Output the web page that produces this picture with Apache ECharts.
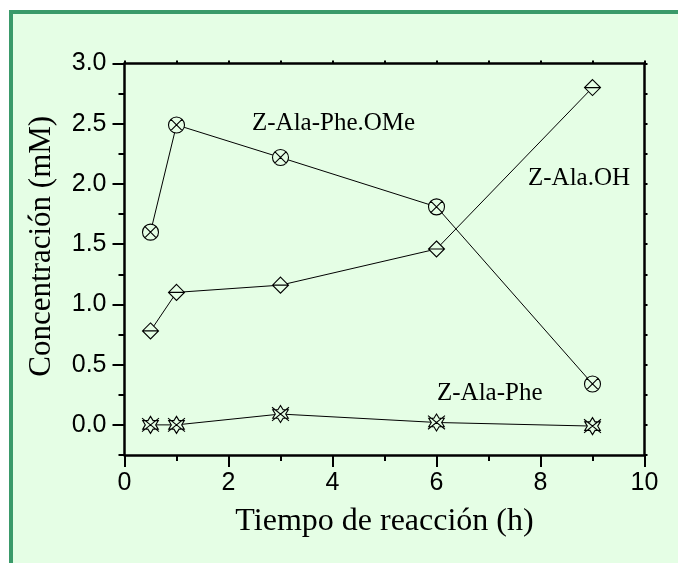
<!DOCTYPE html>
<html>
<head>
<meta charset="utf-8">
<script src="https://cdn.jsdelivr.net/npm/echarts@6/dist/echarts.min.js"></script>
<style>
html,body{margin:0;padding:0;background:#ffffff;}
#chart{width:678px;height:563px;}
</style>
</head>
<body>
<div id="chart"></div>
<script>
// ---- data ----
const times = [0.5, 1, 3, 6, 9];
const esterValues = [1.60, 2.49, 2.22, 1.81, 0.34];      // Z-Ala-Phe.OMe
const acidValues = [0.78, 1.10, 1.16, 1.46, 2.80];       // Z-Ala.OH
const dipeptideValues = [0.00, 0.00, 0.09, 0.02, -0.01]; // Z-Ala-Phe
const seriesNames = ['Z-Ala-Phe.OMe', 'Z-Ala.OH', 'Z-Ala-Phe'];
const xTickLabels = [0, 2, 4, 6, 8, 10];
const yTickLabels = [0.0, 0.5, 1.0, 1.5, 2.0, 2.5, 3.0];
const yMinorTicks = [-0.25, 0.25, 0.75, 1.25, 1.75, 2.25, 2.75];
const yRightTicks = [-0.25, 0, 0.25, 0.5, 0.75, 1, 1.25, 1.5, 1.75, 2, 2.25, 2.5, 2.75, 3];
const xTitle = 'Tiempo de reacción (h)';
const yTitle = 'Concentración (mM)';

const BG = '#e5fee5';
const SANS = 'Liberation Sans, Arial, sans-serif';
const SERIF = 'Liberation Serif, Times New Roman, serif';

const circleX = 'path://M0,-1 A1,1 0 1,1 0,1 A1,1 0 1,1 0,-1 Z M-0.72,-0.72 L0.72,0.72 M-0.72,0.72 L0.72,-0.72';
const diamondH = 'path://M0,-1 L1,0 L0,1 L-1,0 Z M-1,0 L1,0';
const starX = 'path://M0,-1 L0.29,-0.5 L0.87,-0.5 L0.58,0 L0.87,0.5 L0.29,0.5 L0,1 L-0.29,0.5 L-0.87,0.5 L-0.58,0 L-0.87,-0.5 L-0.29,-0.5 Z M-0.95,-0.8 L0.95,0.8 M-0.95,0.8 L0.95,-0.8';

function pairs(vals){ return times.map((t,i)=>[t, vals[i]]); }

function makeSeries(name, vals, symbol, size){
  return {
    name: name, type: 'line', data: pairs(vals),
    xAxisIndex: 0, yAxisIndex: 0,
    symbol: symbol, symbolSize: size, showAllSymbol: true,
    lineStyle: {color: '#000', width: 1},
    itemStyle: {color: BG, borderColor: '#000', borderWidth: 1.1},
    emphasis: {disabled: true}, silent: true
  };
}

const chart = echarts.init(document.getElementById('chart'), null, {renderer: 'canvas'});
const axisLine = {show: true, onZero: false, lineStyle: {color: '#000', width: 2.5}};

chart.setOption({
  animation: false,
  backgroundColor: '#ffffff',
  graphic: [
    {type: 'rect', z: -10, silent: true,
     shape: {x: 11, y: 12, width: 720, height: 620},
     style: {fill: BG, stroke: '#3a9a6a', lineWidth: 4}},
    {type: 'text', left: 252, top: 111, silent: true,
     style: {text: seriesNames[0], font: '25px ' + SERIF, fill: '#000'}},
    {type: 'text', left: 528, top: 166, silent: true,
     style: {text: seriesNames[1], font: '25px ' + SERIF, fill: '#000'}},
    {type: 'text', left: 437, top: 381, silent: true,
     style: {text: seriesNames[2], font: '25px ' + SERIF, fill: '#000'}}
  ],
  grid: {left: 124.5, right: 33.5, top: 63.5, bottom: 108, containLabel: false, outerBoundsMode: 'none'},
  xAxis: [
    {type: 'value', position: 'bottom', min: 0, max: 10, interval: 2,
     axisLine: axisLine,
     axisTick: {show: true, inside: false, length: 12, lineStyle: {color: '#000', width: 2}},
     minorTick: {show: true, splitNumber: 2, length: 6, lineStyle: {color: '#000', width: 2}},
     axisLabel: {show: true, margin: 16, color: '#000', fontSize: 25, fontFamily: SANS,
                 customValues: xTickLabels, formatter: v => String(v)},
     splitLine: {show: false}, minorSplitLine: {show: false},
     name: xTitle, nameLocation: 'middle', nameGap: 51,
     nameTextStyle: {color: '#000', fontSize: 32, fontFamily: SERIF}},
    {type: 'value', position: 'top', min: 0, max: 10, interval: 1,
     axisLine: axisLine,
     axisTick: {show: true, inside: false, length: 3, lineStyle: {color: '#000', width: 2}},
     axisLabel: {show: false}, splitLine: {show: false}}
  ],
  yAxis: [
    {type: 'value', position: 'left', min: -0.25, max: 3.0,
     axisLine: axisLine,
     axisTick: {show: true, inside: false, length: 12, customValues: yTickLabels, lineStyle: {color: '#000', width: 2}},
     axisLabel: {show: true, margin: 18, color: '#000', fontSize: 25, fontFamily: SANS,
                 customValues: yTickLabels, formatter: v => v.toFixed(1)},
     splitLine: {show: false},
     name: yTitle, nameLocation: 'middle', nameGap: 67,
     nameTextStyle: {color: '#000', fontSize: 31, fontFamily: SERIF, padding: [0, 0, 0, 26]}},
    {type: 'value', position: 'left', min: -0.25, max: 3.0,
     axisLine: {show: false, onZero: false},
     axisTick: {show: true, inside: false, length: 6, customValues: yMinorTicks, lineStyle: {color: '#000', width: 2}},
     axisLabel: {show: false}, splitLine: {show: false}},
    {type: 'value', position: 'right', min: -0.25, max: 3.0,
     axisLine: axisLine,
     axisTick: {show: true, inside: false, length: 3, customValues: yRightTicks, lineStyle: {color: '#000', width: 2}},
     axisLabel: {show: false}, splitLine: {show: false}}
  ],
  series: [
    makeSeries(seriesNames[0], esterValues, circleX, 16),
    makeSeries(seriesNames[1], acidValues, diamondH, 16),
    makeSeries(seriesNames[2], dipeptideValues, starX, 17)
  ]
});
</script>
</body>
</html>
